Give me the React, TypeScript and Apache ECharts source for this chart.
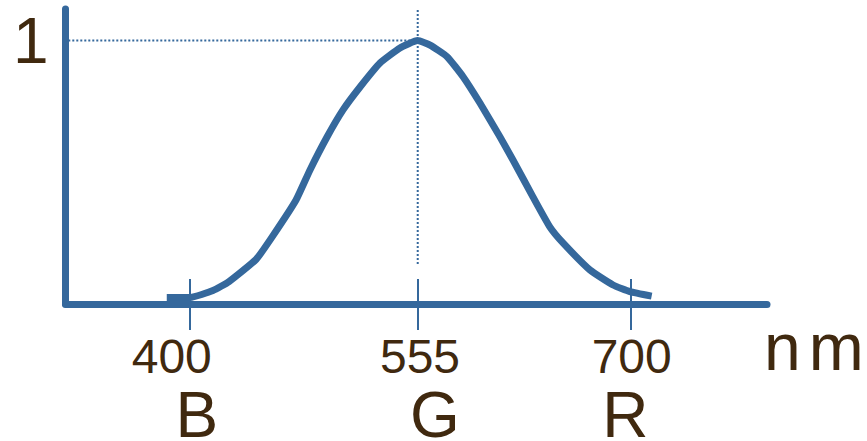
import React, { useEffect, useRef } from "react";
import * as echarts from "echarts";

// Luminosity (photopic sensitivity) curve, wavelength in nm vs relative response
const wavelengths = [384, 400, 415.5, 426.4, 444.8, 455.7, 472.1, 481.6, 493.2, 504.1, 515.7, 529.3, 542.9, 555, 563.4, 575, 585.9, 597.4, 611.1, 619.9, 633.6, 645.1, 654, 672.4, 688.1, 699.6, 714.4];
const sensitivity = [0.025, 0.025, 0.051, 0.085, 0.169, 0.254, 0.395, 0.509, 0.634, 0.737, 0.824, 0.915, 0.972, 1.0, 0.983, 0.939, 0.863, 0.763, 0.634, 0.547, 0.406, 0.292, 0.232, 0.129, 0.072, 0.047, 0.03];

const tickValues = [400, 555, 700];
const colorLetters = ["B", "G", "R"];
const peakWavelength = 555;
const peakValue = 1;

const BLUE = "#35689c";
const BROWN = "#40290f";
const FONT = "'Liberation Sans', Arial, sans-serif";

// per-label horizontal nudges [number padding, letter padding] as [right, left]
const numberPad: number[][] = [[37, 0], [0, 4.6], [0, 2.4]];
const letterPad: number[][] = [[0, 13.4], [0, 34.2], [10.2, 0]];

export default function App() {
  const ref = useRef<HTMLDivElement>(null);

  useEffect(() => {
    if (!ref.current) return;
    const chart = echarts.init(ref.current, null, { renderer: "svg" });

    const rich: Record<string, any> = {};
    tickValues.forEach((_, i) => {
      rich["v" + i] = {
        fontSize: 48,
        lineHeight: 52,
        color: BROWN,
        fontFamily: FONT,
        padding: [0, numberPad[i][0], 0, numberPad[i][1]],
      };
      rich["c" + i] = {
        fontSize: 64,
        lineHeight: 66,
        color: BROWN,
        fontFamily: FONT,
        padding: [0, letterPad[i][0], 0, letterPad[i][1]],
      };
    });

    const curve = wavelengths.map((w, i) => [w, sensitivity[i]]);

    chart.setOption({
      animation: false,
      grid: { left: 65.5, right: 100, top: 9, bottom: 137, outerBoundsMode: "none" },
      xAxis: [
        {
          type: "value",
          min: 315,
          max: 793,
          name: "{n|n}{m|m}",
          nameLocation: "end",
          nameGap: -3,
          nameTextStyle: {
            verticalAlign: "middle",
            align: "left",
            padding: [86, 0, 0, 0],
            rich: {
              n: { fontSize: 66, color: BROWN, fontFamily: FONT, padding: [0, 8, 0, 0] },
              m: { fontSize: 66, color: BROWN, fontFamily: FONT },
            },
          },
          axisLine: { show: true, lineStyle: { color: BLUE, width: 7 } },
          axisTick: {
            show: true,
            customValues: tickValues,
            length: 26,
            lineStyle: { color: BLUE, width: 2 },
          },
          axisLabel: {
            show: true,
            customValues: tickValues,
            margin: 26,
            formatter: (value: number) => {
              const i = tickValues.indexOf(value);
              if (i < 0) return "";
              return `{v${i}|${value}}\n{c${i}|${colorLetters[i]}}`;
            },
            rich,
          },
          splitLine: { show: false },
        },
        {
          // inward half of the wavelength ticks
          type: "value",
          min: 315,
          max: 793,
          position: "bottom",
          axisLine: { show: false },
          axisTick: {
            show: true,
            inside: true,
            customValues: tickValues,
            length: 25,
            lineStyle: { color: BLUE, width: 2 },
          },
          axisLabel: { show: false },
          splitLine: { show: false },
        },
      ],
      yAxis: {
        type: "value",
        min: 0,
        max: 1.12,
        axisLine: { show: true, lineStyle: { color: BLUE, width: 7 } },
        axisTick: { show: false },
        splitLine: { show: false },
        axisLabel: {
          show: true,
          customValues: [peakValue],
          margin: 17,
          fontSize: 64,
          color: BROWN,
          fontFamily: FONT,
          padding: [5, 0, 0, 0],
        },
      },
      series: [
        {
          name: "peak level",
          type: "line",
          clip: false,
          symbol: "none",
          silent: true,
          data: [[306, peakValue], [peakWavelength, peakValue]],
          lineStyle: { color: BLUE, width: 2, type: [2, 2] },
        },
        {
          name: "peak wavelength",
          type: "line",
          clip: false,
          symbol: "none",
          silent: true,
          data: [[peakWavelength, 1.116], [peakWavelength, 0.144]],
          lineStyle: { color: BLUE, width: 2, type: [2, 2] },
        },
        {
          name: "sensitivity",
          type: "line",
          symbol: "none",
          smooth: 0.15,
          clip: false,
          data: curve,
          lineStyle: { color: BLUE, width: 7, cap: "butt", join: "round" },
        },
      ],
    });

    return () => chart.dispose();
  }, []);

  return (
    <div
      ref={ref}
      style={{ position: "fixed", left: 0, top: 0, width: 867, height: 441, background: "#fff" }}
    />
  );
}
